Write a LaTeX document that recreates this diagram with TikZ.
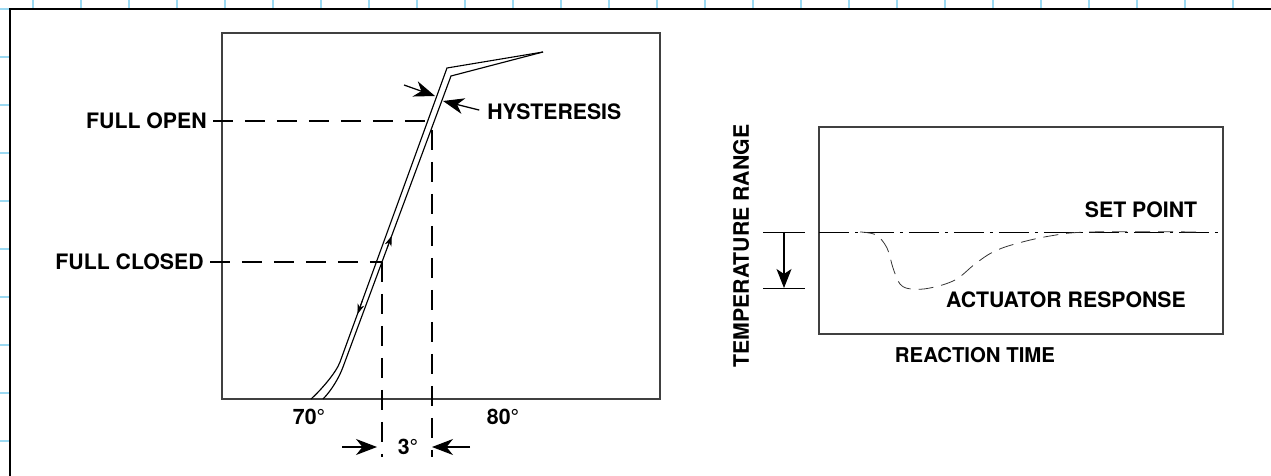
\documentclass[tikz,border=0pt]{standalone}
\usepackage{fontspec}
\setmainfont{TeX Gyre Heros}
\usepackage{tikz}
\usetikzlibrary{arrows.meta}
\newcommand{\unitsize}{0.02cm}
\definecolor{gridblue}{RGB}{155,217,242}

\begin{document}
\begin{tikzpicture}[x=\unitsize,y=-\unitsize]
\useasboundingbox (0,0) rectangle (1271,476);
% graph paper ticks round the frame
\foreach \gx in {33,81,...,1233} \draw[gridblue,line width=1.2pt] (\gx,0) -- (\gx,9);
\foreach \gy in {9,57,...,441} \draw[gridblue,line width=1.2pt] (0,\gy) -- (10,\gy);
\draw[line width=1.7pt] (1271,9) -- (10,9) -- (10,476);

\tikzstyle{every node}=[font=\bfseries\fontsize{12.1}{14}\selectfont,
			inner sep=0pt
			]
\tikzstyle{chartbox}=[black!75, line width=0.9pt]
\tikzstyle{curve}=[line width=0.65pt]
\tikzstyle{guide}=[line width=0.7pt, dash pattern=on 0.4cm off 0.24cm]
\tikzstyle{bigarrow}=[line width=0.7pt, -{Stealth[length=0.42cm,width=0.32cm,inset=0.13cm]}]
\tikzstyle{smallarrow}=[line width=0.5pt, -{Stealth[length=0.2cm,width=0.14cm,inset=0.06cm]}]
\tikzstyle{setline}=[line width=0.5pt, dash pattern=on 0.6cm off 0.12cm on 0.06cm off 0.12cm]
\tikzstyle{response}=[black!80, line width=0.45pt, dash pattern=on 0.3cm off 0.16cm]

% valve position chart
\draw[chartbox] (222,33) rectangle (660,399);

\coordinate (outtop) at (447,68);
\coordinate (intop) at (451,76);
\coordinate (tail) at (543,52);
\draw[curve] (311,399) .. controls (320,391) and (336,373) .. (340,362) -- (outtop) -- (tail);
\draw[curve] (323,399) .. controls (331,391) and (339,378) .. (343,367) -- (intop) -- (tail);

\draw[smallarrow] (387.2,248) -- (391.6,236);
\draw[smallarrow] (362.6,300) -- (357.5,314);

\node[anchor=east] (fullopen) at (207,121) {FULL OPEN};
\node[anchor=east] (fullclosed) at (204,262) {FULL CLOSED};

\coordinate (openpt) at (428,121);
\coordinate (openlow) at (432,130);
\coordinate (openfoot) at (432,457);
\coordinate (closedpt) at (382,262);
\coordinate (closedfoot) at (382,457);
\draw[guide] (fullopen.east) [shorten <=0.12cm] -- (openpt);
\draw[guide] (fullclosed.east) [shorten <=0.12cm] -- (closedpt);
\draw[guide] (openlow) -- (openfoot);
\draw[guide] (closedpt) -- (closedfoot);

\node[anchor=west] (hyst) at (487,112) {HYSTERESIS};
\coordinate (hystfrom) at (404,85);
\coordinate (hystout) at (435,96);
\coordinate (hystin) at (443,101);
\draw[bigarrow] (hystfrom) -- (hystout);
\draw[bigarrow, shorten <=0.16cm] (hyst.west) -- (hystin);

\node (t70) at (309,417) {70°};
\node (t80) at (503,417) {80°};
\node (t3) at (408,447) {3°};
\coordinate (dimleft) at (342,447);
\coordinate (dimright) at (470,447);
\draw[bigarrow, shorten >=0.1cm] (dimleft) -- (closedfoot |- t3);
\draw[bigarrow] (dimright) -- (openfoot |- t3);

% reaction chart
\draw[chartbox] (819,127) rectangle (1223,334);
\coordinate (spleft) at (819,232);
\coordinate (spright) at (1223,232);
\draw[setline] (spleft) -- (spright);

\node (setpoint) at (1141,210) {SET POINT};
\node (actresp) at (1066,300) {ACTUATOR RESPONSE};
\node[font=\bfseries\fontsize{11.6}{13}\selectfont] (reaction) at (975,355) {REACTION TIME};
\node[rotate=90] (temprange) at (741,246) {TEMPERATURE RANGE};

\coordinate (rangetop) at (784,232);
\coordinate (rangebot) at (784,288);
\draw[line width=0.5pt] (763,232) -- (805,232);
\draw[line width=0.5pt] (763,288) -- (805,288);
\draw[line width=0.6pt, -{Stealth[length=0.38cm,width=0.3cm,inset=0.1cm]}] (rangetop) -- (rangebot);

\draw[response] plot[smooth, tension=0.6] coordinates {(860,232) (876,235) (887,248) (893,268) (900,284) (911,289) (930,288) (955,280) (975,264) (993,252) (1015,244) (1050,236) (1090,232) (1200,232)};
\end{tikzpicture}
\end{document}
